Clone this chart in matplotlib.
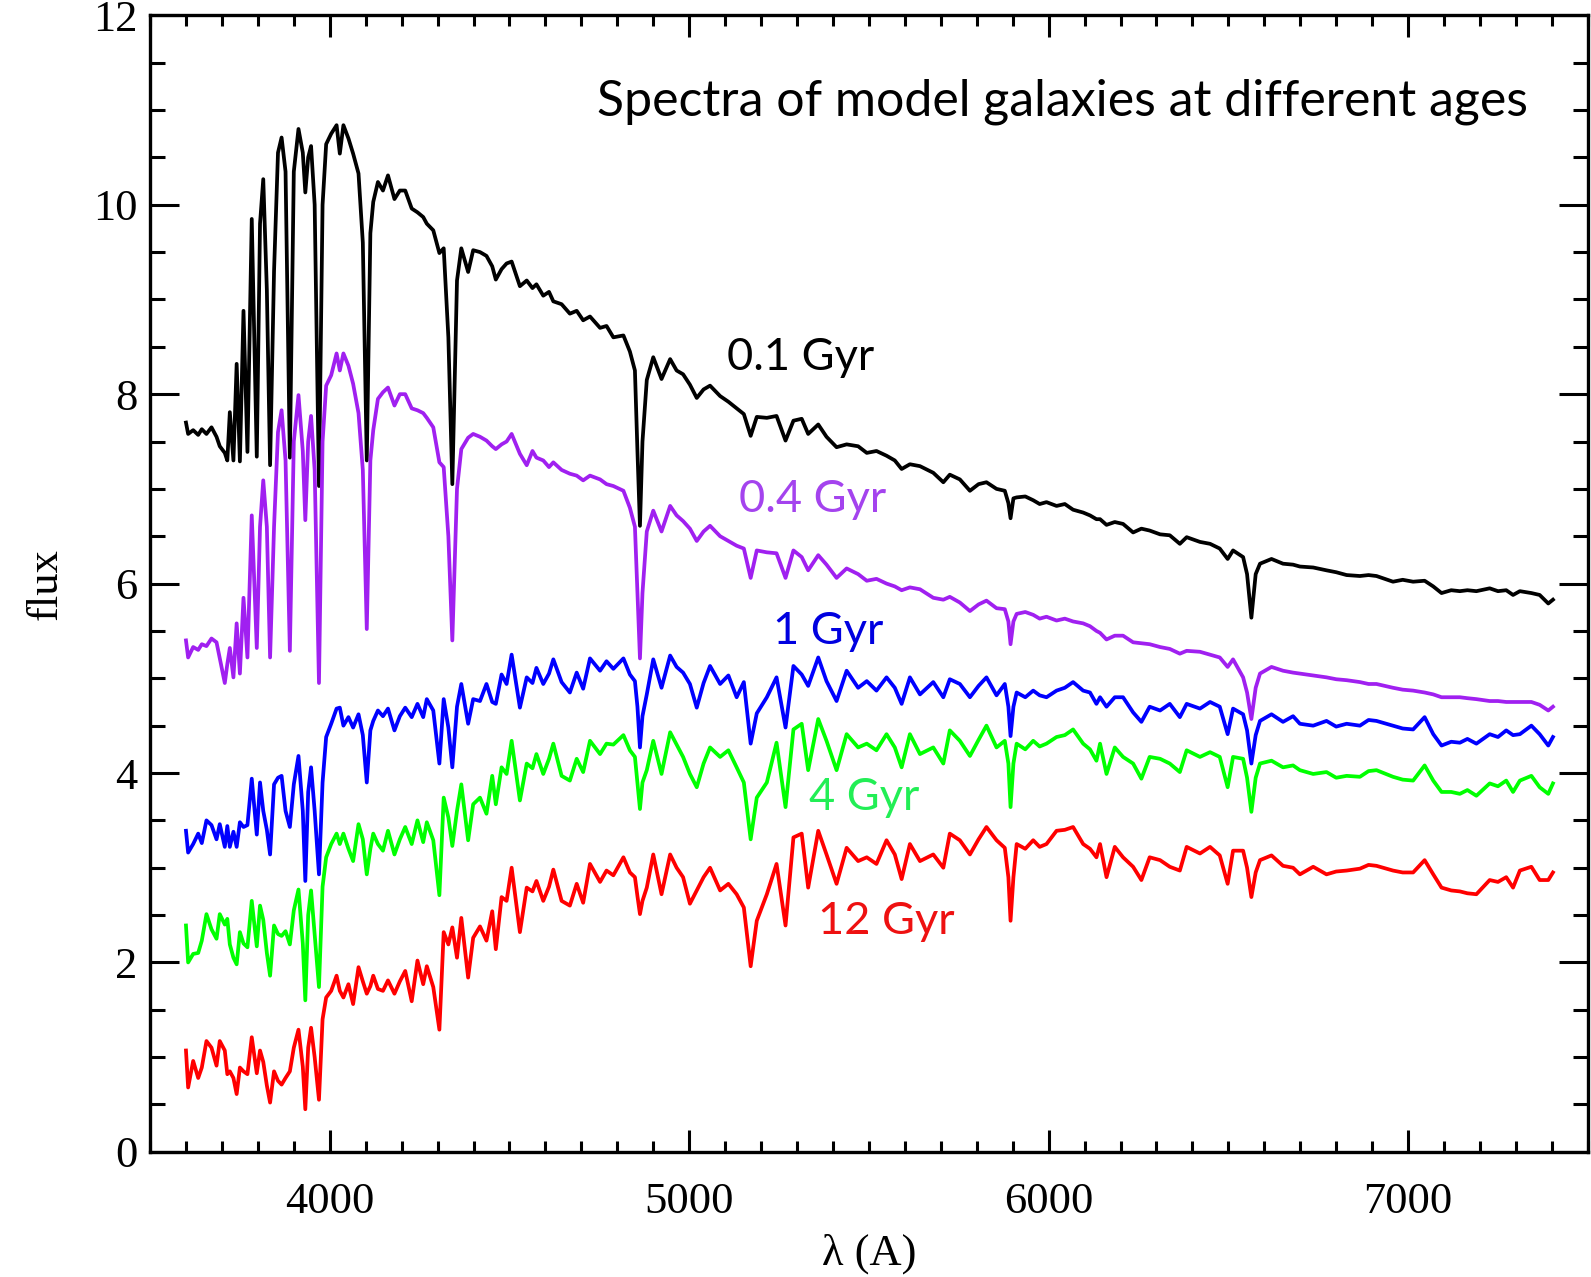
import matplotlib
matplotlib.use("Agg")
import matplotlib.pyplot as plt
from matplotlib.ticker import MultipleLocator

# wavelength grid (Angstrom), shared by all spectra
wave = [3600, 3606, 3620, 3634, 3644, 3657, 3671, 3685, 3694, 3708,
        3715, 3722, 3732, 3741, 3750, 3760,
        3771, 3783, 3797, 3806, 3815, 3825, 3834,
        3845, 3856, 3866, 3877, 3889,
        3900, 3913, 3925, 3932, 3940, 3948, 3958, 3970,
        3980, 3990, 4004, 4019, 4028, 4038, 4052, 4065, 4080, 4092, 4103,
        4113, 4121, 4134, 4148, 4162, 4180, 4195, 4210, 4228, 4244, 4260, 4270, 4288, 4305,
        4317, 4330, 4341, 4354, 4366, 4385, 4399, 4418, 4436, 4452, 4462, 4478, 4492, 4506,
        4529, 4548, 4564, 4575, 4594, 4610, 4622, 4645, 4668, 4687, 4705, 4724, 4752, 4770, 4789, 4817, 4835, 4849,
        4856, 4863, 4870,
        4882, 4900, 4923, 4947, 4965, 4983, 5002, 5021, 5040, 5058, 5086, 5109, 5132, 5152,
        5171, 5188, 5216, 5243, 5268, 5290, 5313, 5331, 5359, 5382, 5410,
        5438, 5470, 5494, 5521, 5549, 5572, 5591, 5614, 5642, 5679, 5707, 5725, 5753, 5781, 5805, 5827, 5855, 5878,
        5888, 5894, 5902,
        5911, 5935, 5957, 5975, 5994, 6022, 6045, 6068, 6096, 6115, 6133,
        6143, 6161, 6184, 6207, 6235, 6258, 6281, 6310, 6337, 6365, 6384, 6421, 6449, 6476,
        6498, 6513, 6541, 6552, 6564, 6576, 6588,
        6620, 6652, 6680, 6699, 6736, 6773, 6800, 6829, 6866, 6890, 6912, 6958, 6985, 7014, 7046,
        7070, 7093, 7120, 7144, 7165, 7190, 7227, 7250, 7273, 7292, 7311, 7343, 7366, 7390, 7403]

flux_01 = [7.70, 7.58, 7.62, 7.57, 7.63, 7.58, 7.65, 7.55, 7.45, 7.38,
           7.30, 7.81, 7.30, 8.32, 7.29, 8.88,
           7.39, 9.85, 7.34, 9.80, 10.27, 9.10, 7.25,
           9.30, 10.55, 10.71, 10.35, 7.33,
           10.35, 10.80, 10.55, 10.13, 10.50, 10.62, 10.00, 7.03,
           10.00, 10.64, 10.75, 10.84, 10.54, 10.84, 10.70, 10.54, 10.33, 9.60, 7.30,
           9.70, 10.03, 10.24, 10.15, 10.31, 10.06, 10.15, 10.15, 9.96, 9.92, 9.87, 9.80, 9.73, 9.49,
           9.54, 8.60, 7.05, 9.20, 9.54, 9.29, 9.52, 9.50, 9.46, 9.35, 9.21, 9.32, 9.38, 9.40,
           9.14, 9.20, 9.12, 9.16, 9.04, 9.08, 8.98, 8.95, 8.85, 8.88, 8.78, 8.82, 8.70, 8.72, 8.60, 8.62, 8.45, 8.25,
           7.40, 6.61, 7.50,
           8.15, 8.39, 8.16, 8.37, 8.25, 8.21, 8.10, 7.96, 8.05, 8.09, 7.98, 7.92, 7.85, 7.79,
           7.56, 7.76, 7.75, 7.77, 7.51, 7.72, 7.74, 7.58, 7.68, 7.55, 7.44,
           7.47, 7.45, 7.38, 7.40, 7.35, 7.30, 7.21, 7.26, 7.24, 7.17, 7.07, 7.15, 7.10, 6.98, 7.05, 7.07, 7.00, 6.98,
           6.85, 6.69, 6.90,
           6.91, 6.92, 6.88, 6.84, 6.86, 6.82, 6.84, 6.78, 6.75, 6.72, 6.68,
           6.68, 6.62, 6.65, 6.63, 6.54, 6.58, 6.56, 6.52, 6.51, 6.42, 6.49, 6.44, 6.42, 6.37,
           6.26, 6.35, 6.28, 6.10, 5.64, 6.10, 6.21,
           6.26, 6.21, 6.20, 6.18, 6.17, 6.14, 6.12, 6.09, 6.08, 6.09, 6.08, 6.02, 6.04, 6.02, 6.03,
           5.97, 5.90, 5.93, 5.92, 5.93, 5.92, 5.95, 5.92, 5.93, 5.88, 5.92, 5.90, 5.88, 5.79, 5.83]

flux_04 = [5.40, 5.22, 5.33, 5.30, 5.36, 5.34, 5.42, 5.38, 5.21, 4.95,
           5.15, 5.32, 5.01, 5.58, 5.05, 5.85,
           5.22, 6.72, 5.32, 6.60, 7.09, 6.60, 5.22,
           6.60, 7.60, 7.83, 7.30, 5.29,
           7.50, 7.99, 7.40, 6.67, 7.50, 7.77, 7.20, 4.95,
           7.50, 8.09, 8.20, 8.43, 8.25, 8.43, 8.30, 8.11, 7.80, 7.20, 5.52,
           7.30, 7.62, 7.95, 8.02, 8.07, 7.88, 8.00, 8.00, 7.85, 7.83, 7.80, 7.75, 7.65, 7.28,
           7.23, 6.50, 5.40, 7.00, 7.42, 7.54, 7.58, 7.55, 7.51, 7.45, 7.42, 7.47, 7.50, 7.58,
           7.37, 7.25, 7.40, 7.33, 7.30, 7.23, 7.28, 7.20, 7.16, 7.14, 7.09, 7.14, 7.10, 7.05, 7.03, 6.98, 6.80, 6.60,
           5.90, 5.21, 5.90,
           6.55, 6.77, 6.55, 6.82, 6.72, 6.66, 6.58, 6.45, 6.55, 6.61, 6.50, 6.45, 6.40, 6.37,
           6.06, 6.35, 6.33, 6.32, 6.06, 6.35, 6.28, 6.14, 6.30, 6.20, 6.06,
           6.16, 6.10, 6.03, 6.05, 6.00, 5.97, 5.93, 5.96, 5.94, 5.85, 5.83, 5.86, 5.80, 5.71, 5.78, 5.82, 5.74, 5.73,
           5.60, 5.36, 5.60,
           5.68, 5.70, 5.67, 5.63, 5.65, 5.61, 5.63, 5.60, 5.58, 5.55, 5.50,
           5.48, 5.41, 5.45, 5.45, 5.38, 5.37, 5.36, 5.33, 5.31, 5.26, 5.29, 5.28, 5.25, 5.22,
           5.12, 5.20, 5.01, 4.85, 4.57, 4.90, 5.05,
           5.12, 5.08, 5.06, 5.05, 5.03, 5.01, 4.99, 4.98, 4.96, 4.94, 4.94, 4.90, 4.88, 4.87, 4.85,
           4.83, 4.80, 4.80, 4.80, 4.79, 4.78, 4.76, 4.76, 4.75, 4.75, 4.75, 4.75, 4.72, 4.66, 4.70]

flux_1 = [3.39, 3.16, 3.25, 3.36, 3.26, 3.50, 3.45, 3.30, 3.46, 3.22,
          3.44, 3.22, 3.38, 3.22, 3.48, 3.43,
          3.45, 3.94, 3.35, 3.90, 3.60, 3.40, 3.14,
          3.88, 3.95, 3.97, 3.60, 3.43,
          3.88, 4.18, 3.60, 2.86, 3.80, 4.06, 3.60, 2.93,
          3.90, 4.38, 4.52, 4.68, 4.69, 4.50, 4.59, 4.48, 4.62, 4.40, 3.90,
          4.45, 4.55, 4.66, 4.60, 4.68, 4.45, 4.60, 4.69, 4.59, 4.73, 4.59, 4.78, 4.66, 4.10,
          4.78, 4.48, 4.06, 4.70, 4.94, 4.52, 4.78, 4.76, 4.94, 4.75, 4.73, 5.04, 4.94, 5.25,
          4.69, 5.01, 4.95, 5.11, 4.94, 5.05, 5.20, 4.96, 4.85, 5.06, 4.89, 5.21, 5.08, 5.18, 5.10, 5.21, 5.04, 4.97,
          4.70, 4.27, 4.60,
          4.83, 5.20, 4.90, 5.24, 5.12, 5.06, 4.94, 4.69, 4.95, 5.13, 4.94, 5.03, 4.80, 4.96,
          4.31, 4.63, 4.80, 5.01, 4.48, 5.13, 5.04, 4.92, 5.22, 4.97, 4.76,
          5.08, 4.90, 4.97, 4.87, 5.01, 4.90, 4.73, 5.01, 4.83, 4.96, 4.80, 4.99, 4.94, 4.80, 4.92, 5.01, 4.82, 4.94,
          4.70, 4.39, 4.70,
          4.85, 4.80, 4.87, 4.82, 4.80, 4.87, 4.90, 4.96, 4.87, 4.85, 4.73,
          4.80, 4.70, 4.80, 4.80, 4.64, 4.54, 4.70, 4.66, 4.73, 4.59, 4.73, 4.68, 4.75, 4.70,
          4.41, 4.68, 4.62, 4.45, 4.10, 4.40, 4.55,
          4.62, 4.54, 4.60, 4.52, 4.50, 4.55, 4.49, 4.52, 4.50, 4.56, 4.55, 4.50, 4.47, 4.46, 4.59,
          4.41, 4.29, 4.33, 4.32, 4.36, 4.31, 4.41, 4.38, 4.45, 4.40, 4.41, 4.50, 4.41, 4.29, 4.38]

flux_4 = [2.39, 2.00, 2.09, 2.10, 2.23, 2.51, 2.35, 2.25, 2.51, 2.40,
          2.46, 2.19, 2.05, 1.98, 2.32, 2.20,
          2.16, 2.65, 2.17, 2.60, 2.45, 2.10, 1.86,
          2.39, 2.30, 2.28, 2.33, 2.19,
          2.55, 2.77, 2.20, 1.60, 2.50, 2.76, 2.30, 1.74,
          2.80, 3.11, 3.25, 3.36, 3.25, 3.36, 3.20, 3.07, 3.46, 3.30, 2.93,
          3.20, 3.36, 3.25, 3.18, 3.39, 3.14, 3.30, 3.43, 3.25, 3.50, 3.27, 3.48, 3.29, 2.71,
          3.74, 3.53, 3.23, 3.60, 3.88, 3.29, 3.67, 3.74, 3.57, 3.97, 3.67, 4.06, 3.99, 4.34,
          3.71, 4.10, 4.05, 4.20, 3.99, 4.15, 4.31, 3.97, 3.92, 4.15, 4.01, 4.34, 4.20, 4.31, 4.30, 4.40, 4.24, 4.17,
          3.90, 3.62, 3.90,
          4.03, 4.34, 3.99, 4.43, 4.30, 4.17, 3.99, 3.85, 4.10, 4.27, 4.17, 4.24, 4.06, 3.90,
          3.30, 3.74, 3.90, 4.32, 3.64, 4.46, 4.52, 4.03, 4.57, 4.34, 4.03,
          4.41, 4.27, 4.31, 4.24, 4.41, 4.27, 4.06, 4.41, 4.20, 4.27, 4.10, 4.45, 4.34, 4.18, 4.35, 4.50, 4.27, 4.34,
          4.10, 3.64, 4.10,
          4.31, 4.25, 4.34, 4.28, 4.31, 4.38, 4.40, 4.46, 4.31, 4.25, 4.13,
          4.31, 3.99, 4.27, 4.17, 4.10, 3.94, 4.17, 4.15, 4.10, 4.01, 4.24, 4.17, 4.22, 4.17,
          3.85, 4.17, 4.15, 3.95, 3.59, 3.95, 4.10,
          4.13, 4.06, 4.08, 4.03, 3.99, 4.01, 3.95, 3.97, 3.96, 4.02, 4.03, 3.96, 3.93, 3.92, 4.08,
          3.92, 3.80, 3.80, 3.78, 3.82, 3.76, 3.89, 3.86, 3.92, 3.80, 3.92, 3.97, 3.85, 3.78, 3.89]

flux_12 = [1.07, 0.68, 0.96, 0.78, 0.89, 1.17, 1.10, 0.91, 1.17, 1.07,
           0.82, 0.85, 0.78, 0.61, 0.89, 0.85,
           0.82, 1.21, 0.83, 1.07, 0.95, 0.70, 0.52,
           0.85, 0.75, 0.71, 0.78, 0.85,
           1.10, 1.29, 0.90, 0.45, 1.10, 1.31, 1.00, 0.55,
           1.40, 1.63, 1.70, 1.86, 1.70, 1.63, 1.77, 1.56, 1.95, 1.80, 1.67,
           1.75, 1.86, 1.72, 1.70, 1.81, 1.67, 1.80, 1.91, 1.59, 2.02, 1.77, 1.96, 1.74, 1.29,
           2.32, 2.19, 2.37, 2.05, 2.47, 1.84, 2.26, 2.38, 2.23, 2.54, 2.14, 2.69, 2.65, 3.00,
           2.32, 2.79, 2.75, 2.86, 2.65, 2.80, 2.98, 2.65, 2.60, 2.83, 2.63, 3.04, 2.85, 2.97, 2.92, 3.11, 2.95, 2.90,
           2.70, 2.51, 2.65,
           2.79, 3.14, 2.72, 3.14, 3.00, 2.90, 2.62, 2.76, 2.90, 3.00, 2.76, 2.83, 2.72, 2.58,
           1.96, 2.44, 2.72, 3.04, 2.39, 3.32, 3.36, 2.79, 3.39, 3.14, 2.83,
           3.21, 3.07, 3.11, 3.04, 3.29, 3.14, 2.88, 3.25, 3.07, 3.14, 3.00, 3.36, 3.29, 3.14, 3.30, 3.43, 3.29, 3.21,
           2.90, 2.44, 2.90,
           3.25, 3.20, 3.29, 3.22, 3.25, 3.39, 3.40, 3.43, 3.25, 3.20, 3.11,
           3.25, 2.90, 3.22, 3.11, 3.01, 2.87, 3.11, 3.08, 3.01, 2.97, 3.22, 3.15, 3.22, 3.13,
           2.83, 3.18, 3.18, 3.00, 2.69, 2.95, 3.08,
           3.13, 3.02, 3.00, 2.93, 3.01, 2.93, 2.96, 2.97, 2.99, 3.03, 3.02, 2.97, 2.95, 2.95, 3.08,
           2.93, 2.79, 2.76, 2.75, 2.73, 2.72, 2.87, 2.85, 2.90, 2.79, 2.97, 3.01, 2.87, 2.87, 2.95]

ages = ['0.1 Gyr', '0.4 Gyr', '1 Gyr', '4 Gyr', '12 Gyr']
line_colors = ['black', '#a020f0', '#0000ff', '#00ff00', '#ff0000']
label_colors = ['black', '#a443ee', '#0000e0', '#22ee55', '#ee1111']
label_pos = [(5105, 8.39), (5138, 6.89), (5233, 5.49), (5333, 3.74), (5358, 2.43)]

spectra = [flux_01, flux_04, flux_1, flux_4, flux_12]
for s in spectra:
    assert len(s) == len(wave), (len(s), len(wave))

fig = plt.figure(figsize=(15.91, 12.77), dpi=100)
ax = fig.add_axes([0.0943, 0.098, 0.9037, 0.890])

for flux, c in zip(spectra, line_colors):
    ax.plot(wave, flux, color=c, linewidth=2.7, solid_joinstyle='round')

for txt, c, (x, y) in zip(ages, label_colors, label_pos):
    ax.text(x, y, txt, color=c, fontsize=32.5, family='Lato', ha='left', va='center')

ax.text(7333, 11.09, 'Spectra of model galaxies at different ages', fontsize=36,
        family='Lato', ha='right', va='center')

ax.set_xlim(3500, 7500)
ax.set_ylim(0, 12)
ax.xaxis.set_major_locator(MultipleLocator(1000))
ax.xaxis.set_minor_locator(MultipleLocator(100))
ax.yaxis.set_major_locator(MultipleLocator(2))
ax.yaxis.set_minor_locator(MultipleLocator(0.5))

ax.tick_params(axis='both', which='both', direction='in', top=True, right=True, width=2.2)
ax.tick_params(axis='x', which='major', length=16, pad=22)
ax.tick_params(axis='x', which='minor', length=8)
ax.tick_params(axis='y', which='major', length=21, pad=9)
ax.tick_params(axis='y', which='minor', length=11)
for lab in ax.get_xticklabels() + ax.get_yticklabels():
    lab.set_family('Liberation Serif')
    lab.set_fontsize(32)
for sp in ax.spines.values():
    sp.set_linewidth(2.4)

ax.set_xlabel('λ (A)', family='Liberation Serif', fontsize=32, labelpad=8)
ax.set_ylabel('flux', family='Liberation Serif', fontsize=32, labelpad=20)

fig.savefig('out.png', dpi=100)
